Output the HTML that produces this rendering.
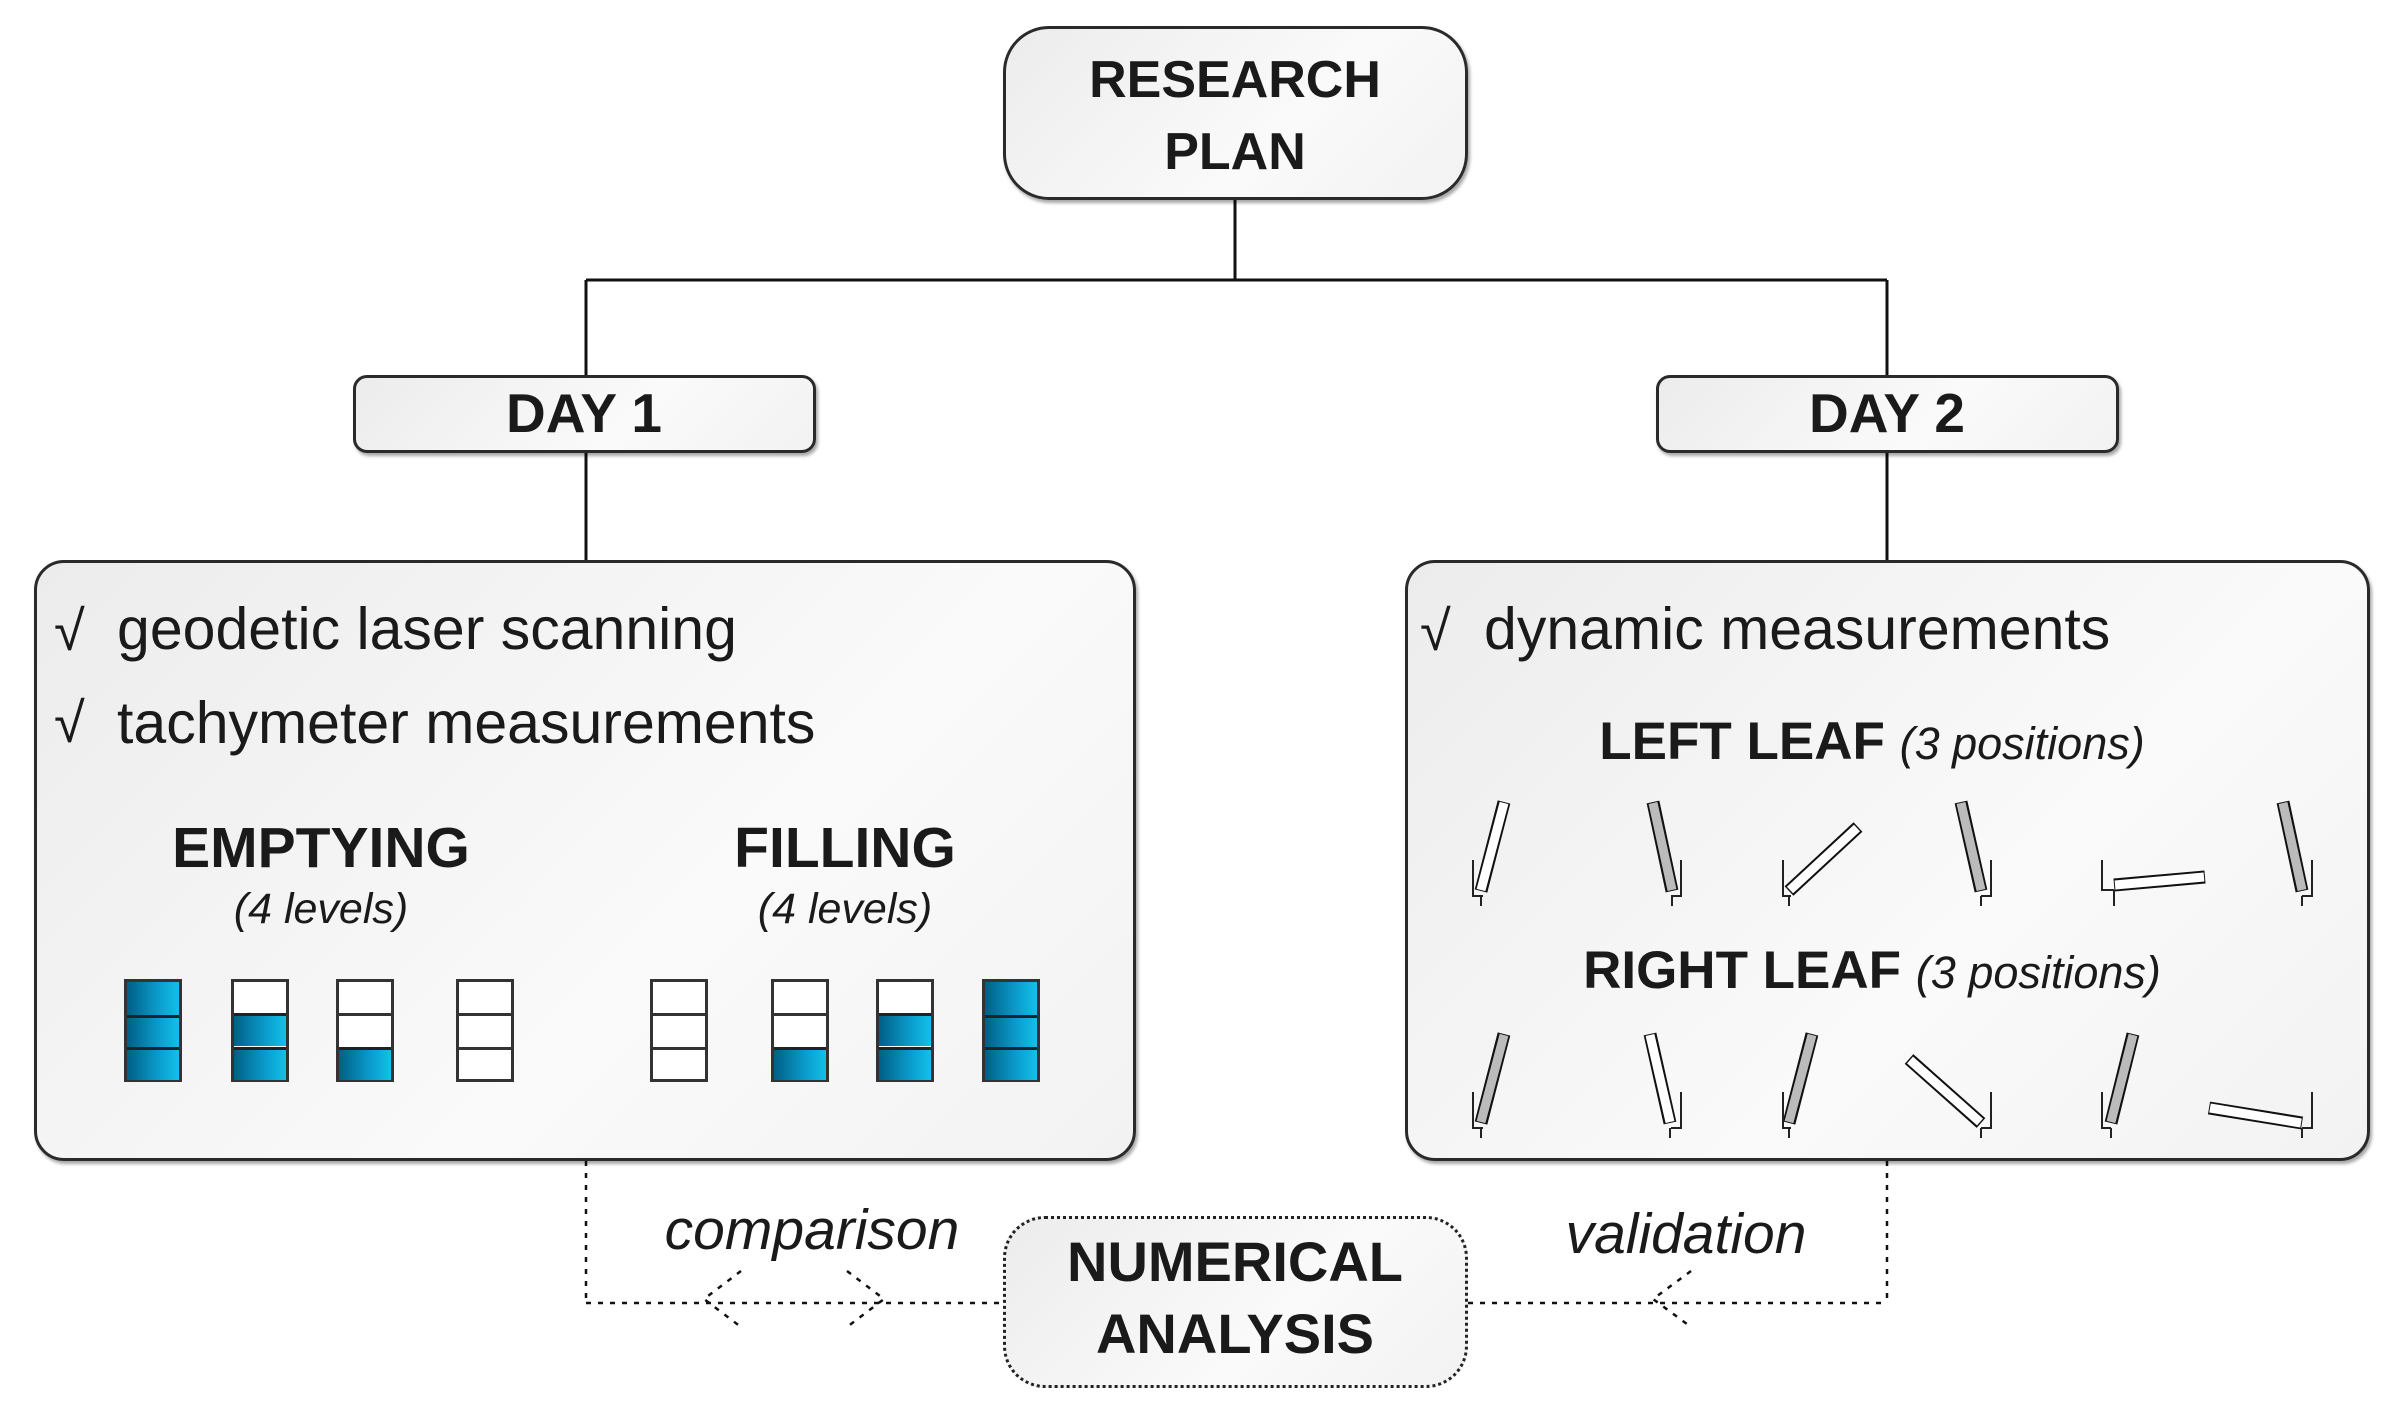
<!DOCTYPE html>
<html><head><meta charset="utf-8"><style>
html,body{margin:0;padding:0;background:#fff;}
#c{position:relative;width:2397px;height:1415px;overflow:hidden;font-family:"Liberation Sans",sans-serif;color:#1a1a1a;}
.box{position:absolute;box-sizing:border-box;border:3px solid #2a2a2a;background:linear-gradient(135deg,#ececec 0%,#fafafa 60%,#f2f2f2 100%);box-shadow:2px 3px 3px rgba(0,0,0,.35);}
.t{position:absolute;white-space:nowrap;}
.b{font-weight:bold;}
.i{font-style:italic;}
.cen{transform:translateX(-50%);text-align:center;}
.bar{position:absolute;width:58px;height:103px;box-sizing:border-box;border:3px solid #333;background:#fff;}
.cell{position:absolute;left:0;width:52px;height:33px;box-sizing:border-box;}
.f{background:linear-gradient(90deg,#005f86,#0a9ccc 60%,#12c0e8);}
</style></head><body><div id="c">
<svg width="2397" height="1415" style="position:absolute;left:0;top:0">
<g stroke="#111" stroke-width="3" fill="none">
<line x1="1235" y1="200" x2="1235" y2="280"/>
<line x1="586" y1="280" x2="1887" y2="280"/>
<line x1="586" y1="280" x2="586" y2="375"/>
<line x1="1887" y1="280" x2="1887" y2="375"/>
<line x1="586" y1="453" x2="586" y2="560"/>
<line x1="1887" y1="453" x2="1887" y2="560"/>
</g>
<g stroke="#111" stroke-width="2.5" fill="none" stroke-dasharray="5 7">
<line x1="586" y1="1161" x2="586" y2="1303"/>
<line x1="586" y1="1303" x2="1003" y2="1303"/>
<line x1="1887" y1="1161" x2="1887" y2="1303"/>
<line x1="1468" y1="1303" x2="1887" y2="1303"/>
<polyline points="741,1271 704,1299 741,1327"/>
<polyline points="847,1271 884,1299 847,1327"/>
<polyline points="1691,1271 1653,1299 1691,1327"/>
</g>
</svg>

<div class="box" style="left:1003px;top:26px;width:465px;height:174px;border-radius:46px;"></div>
<div class="t b cen" style="left:1235px;top:44px;font-size:52px;line-height:72px;">RESEARCH<br>PLAN</div>

<div class="box" style="left:353px;top:375px;width:463px;height:78px;border-radius:14px;"></div>
<div class="t b cen" style="left:584px;top:383px;font-size:55px;line-height:60px;">DAY 1</div>
<div class="box" style="left:1656px;top:375px;width:463px;height:78px;border-radius:14px;"></div>
<div class="t b cen" style="left:1887px;top:383px;font-size:55px;line-height:60px;">DAY 2</div>

<div class="box" style="left:34px;top:560px;width:1102px;height:601px;border-radius:30px;"></div>
<div class="box" style="left:1405px;top:560px;width:965px;height:601px;border-radius:30px;"></div>

<div class="t" style="left:54px;top:598px;font-size:56px;line-height:66px;">√</div>
<div class="t" style="left:117px;top:596px;font-size:59px;line-height:66px;">geodetic laser scanning</div>
<div class="t" style="left:54px;top:690px;font-size:56px;line-height:66px;">√</div>
<div class="t" style="left:117px;top:690px;font-size:59px;line-height:66px;">tachymeter measurements</div>

<div class="t b cen" style="left:321px;top:816px;font-size:57px;line-height:64px;">EMPTYING</div>
<div class="t i cen" style="left:321px;top:884px;font-size:43px;line-height:50px;">(4 levels)</div>
<div class="t b cen" style="left:845px;top:816px;font-size:57px;line-height:64px;">FILLING</div>
<div class="t i cen" style="left:845px;top:884px;font-size:43px;line-height:50px;">(4 levels)</div>

<div class="bar" style="left:124px;top:979px;"><div class="cell f" style="top:0"></div><div class="cell f" style="top:33px;border-top:3px solid #222"></div><div class="cell f" style="top:65px;border-top:3px solid #222"></div></div>
<div class="bar" style="left:231px;top:979px;"><div class="cell" style="top:0"></div><div class="cell f" style="top:31px;border-top:3px solid #222"></div><div class="cell f" style="top:65px;border-top:3px solid #222"></div></div>
<div class="bar" style="left:336px;top:979px;"><div class="cell" style="top:31px;border-top:3px solid #333"></div><div class="cell f" style="top:65px;border-top:3px solid #222"></div></div>
<div class="bar" style="left:456px;top:979px;"><div class="cell" style="top:31px;border-top:3px solid #333"></div><div class="cell" style="top:65px;border-top:3px solid #333"></div></div>
<div class="bar" style="left:650px;top:979px;"><div class="cell" style="top:31px;border-top:3px solid #333"></div><div class="cell" style="top:65px;border-top:3px solid #333"></div></div>
<div class="bar" style="left:771px;top:979px;"><div class="cell" style="top:31px;border-top:3px solid #333"></div><div class="cell f" style="top:65px;border-top:3px solid #222"></div></div>
<div class="bar" style="left:876px;top:979px;"><div class="cell f" style="top:31px;border-top:3px solid #222"></div><div class="cell f" style="top:65px;border-top:3px solid #222"></div></div>
<div class="bar" style="left:982px;top:979px;"><div class="cell f" style="top:0"></div><div class="cell f" style="top:33px;border-top:3px solid #222"></div><div class="cell f" style="top:65px;border-top:3px solid #222"></div></div>

<div class="t" style="left:1420px;top:598px;font-size:56px;line-height:66px;">√</div>
<div class="t" style="left:1484px;top:596px;font-size:59px;line-height:66px;">dynamic measurements</div>
<div class="t cen" style="left:1872px;top:711px;font-size:53px;line-height:62px;"><b>LEFT LEAF</b> <i style="font-size:45px">(3 positions)</i></div>
<div class="t cen" style="left:1872px;top:940px;font-size:53px;line-height:62px;"><b>RIGHT LEAF</b> <i style="font-size:45px">(3 positions)</i></div>

<svg width="2397" height="1415" style="position:absolute;left:0;top:0">
<g stroke-linecap="butt">
<g stroke="#111" stroke-width="13">
<line x1="1504" y1="802" x2="1481" y2="891"/><line x1="1653" y1="802" x2="1672" y2="891"/><line x1="1858" y1="827" x2="1789" y2="891"/><line x1="1961" y1="802" x2="1981" y2="891"/><line x1="2114" y1="885" x2="2205" y2="877"/><line x1="2283" y1="802" x2="2302" y2="891"/>
<line x1="1504" y1="1034" x2="1481" y2="1123"/><line x1="1650" y1="1034" x2="1670" y2="1123"/><line x1="1812" y1="1034" x2="1789" y2="1123"/><line x1="1909" y1="1059" x2="1981" y2="1123"/><line x1="2133" y1="1034" x2="2111" y2="1123"/><line x1="2209" y1="1108" x2="2302" y2="1123"/>
</g>
<g stroke-width="9">
<line stroke="#fff" x1="1504" y1="803" x2="1481" y2="890"/><line stroke="#bbb" x1="1653" y1="803" x2="1672" y2="890"/><line stroke="#fff" x1="1857" y1="828" x2="1790" y2="890"/><line stroke="#bbb" x1="1961" y1="803" x2="1981" y2="890"/><line stroke="#fff" x1="2115" y1="885" x2="2204" y2="877"/><line stroke="#bbb" x1="2283" y1="803" x2="2302" y2="890"/>
<line stroke="#bbb" x1="1504" y1="1035" x2="1481" y2="1122"/><line stroke="#fff" x1="1650" y1="1035" x2="1670" y2="1122"/><line stroke="#bbb" x1="1812" y1="1035" x2="1789" y2="1122"/><line stroke="#fff" x1="1910" y1="1060" x2="1980" y2="1122"/><line stroke="#bbb" x1="2133" y1="1035" x2="2111" y2="1122"/><line stroke="#fff" x1="2210" y1="1108" x2="2301" y2="1123"/>
</g>
<g stroke="#222" stroke-width="2" fill="none">
<polyline points="1473,860 1473,896 1483,896"/><line x1="1481" y1="896" x2="1481" y2="906"/>
<polyline points="1681,860 1681,896 1671,896"/><line x1="1672" y1="896" x2="1672" y2="906"/>
<polyline points="1783,860 1783,896 1791,896"/><line x1="1789" y1="896" x2="1789" y2="906"/>
<polyline points="1991,860 1991,896 1981,896"/><line x1="1981" y1="896" x2="1981" y2="906"/>
<polyline points="2102,860 2102,890 2114,890"/><line x1="2114" y1="890" x2="2114" y2="906"/>
<polyline points="2312,860 2312,896 2302,896"/><line x1="2302" y1="896" x2="2302" y2="906"/>
<polyline points="1473,1092 1473,1128 1483,1128"/><line x1="1481" y1="1128" x2="1481" y2="1138"/>
<polyline points="1681,1092 1681,1128 1671,1128"/><line x1="1670" y1="1128" x2="1670" y2="1138"/>
<polyline points="1783,1092 1783,1128 1791,1128"/><line x1="1789" y1="1128" x2="1789" y2="1138"/>
<polyline points="1991,1092 1991,1128 1981,1128"/><line x1="1981" y1="1128" x2="1981" y2="1138"/>
<polyline points="2102,1092 2102,1128 2111,1128"/><line x1="2111" y1="1128" x2="2111" y2="1138"/>
<polyline points="2312,1092 2312,1128 2302,1128"/><line x1="2302" y1="1128" x2="2302" y2="1138"/>
</g>
</g>
</svg>

<div class="box" style="left:1003px;top:1216px;width:465px;height:172px;border-radius:42px;border:3px dotted #222;box-shadow:none;"></div>
<div class="t b cen" style="left:1235px;top:1226px;font-size:56px;line-height:72px;">NUMERICAL<br>ANALYSIS</div>

<div class="t i cen" style="left:812px;top:1198px;font-size:57px;line-height:64px;">comparison</div>
<div class="t i cen" style="left:1686px;top:1202px;font-size:57px;line-height:64px;">validation</div>
</div></body></html>
